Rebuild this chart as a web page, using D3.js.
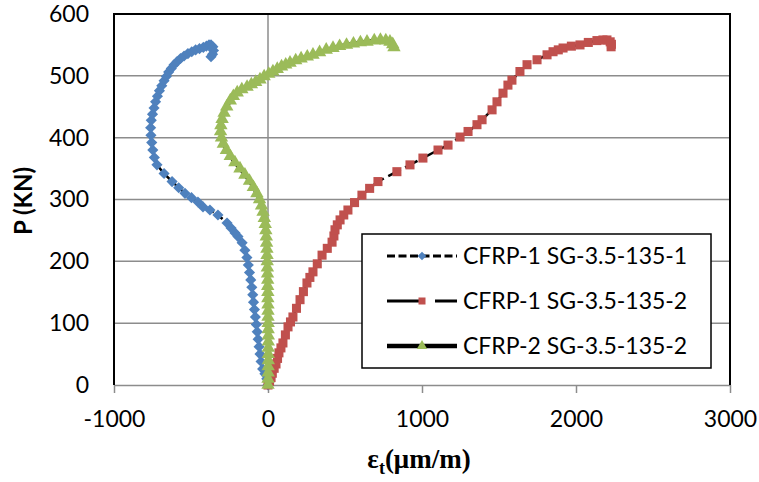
<!DOCTYPE html>
<html>
<head>
<meta charset="utf-8">
<script src="https://cdn.jsdelivr.net/npm/d3@7"></script>
<style>
  body { margin: 0; background: #fff; }
  svg { display: block; }
</style>
</head>
<body>
<div id="chart"></div>
<script>
// Axis ticks
const xTicks = [-1000, 0, 1000, 2000, 3000];
const yTicks = [0, 100, 200, 300, 400, 500, 600];

// Series names as shown in the legend
const seriesNames = ['CFRP-1 SG-3.5-135-1', 'CFRP-1 SG-3.5-135-2', 'CFRP-2 SG-3.5-135-2'];

// Strain (µm/m) and load P (KN)
const strain1 = [0, -8, -20, -35, -45, -52, -58, -64, -70, -76, -82, -88, -94, -99, -105, -112, -120, -128, -137, -150,
  -168, -195, -214, -240, -266, -325, -377, -422, -455, -497, -539, -580, -623, -675, -721, -738, -748, -755, -760, -762,
  -758, -750, -740, -730, -718, -705, -690, -675, -660, -645, -628, -610, -590, -568, -545, -520,
  -495, -470, -445, -420, -400, -383, -370, -358, -354, -360, -370];
const load1 = [0, 10, 18, 26, 38, 50, 62, 74, 86, 98, 110, 122, 134, 146, 158, 170, 182, 194, 206, 218,
  230, 240, 246, 254, 262, 275, 283, 288, 296, 303, 310, 319, 329, 342, 356, 368, 380, 392, 404, 416,
  428, 438, 448, 458, 467, 476, 484, 492, 499, 506, 512, 518, 523, 528, 532, 536,
  539, 542, 544, 546, 548, 550, 550, 547, 541, 535, 531];

const strain2 = [0, 10, 20, 28, 40, 52, 62, 71, 84, 97, 113, 130, 146, 162, 185, 208, 230, 253, 272, 292,
  320, 351, 385, 416, 428, 435, 450, 468, 492, 519, 562, 610, 660, 714, 837, 922, 1006, 1104, 1169, 1247,
  1299, 1357, 1390, 1455, 1487, 1526, 1558, 1584, 1636, 1682, 1747, 1812, 1851, 1885, 1916, 1970, 2026, 2080, 2136, 2175,
  2201, 2222, 2230, 2228];
const load2 = [0, 6, 12, 19, 27, 34, 43, 52, 60, 68, 81, 94, 102, 110, 124, 138, 151, 165, 174, 183,
  196, 210, 221, 231, 241, 251, 259, 267, 275, 283, 295, 307, 318, 329, 345, 356, 367, 380, 388, 401,
  410, 421, 429, 445, 458, 472, 485, 493, 507, 518, 526, 534, 539, 542, 545, 548, 550, 554, 557, 558,
  558, 555, 551, 547];

const strain3 = [0, 0, 1, 1, 2, 2, 2, 2, 2, 1, 1, 0, 0, 0, -1, -1, -2, -2, -3, -4,
  -5, -6, -7, -9, -11, -14, -18, -24, -32, -42, -55, -72, -95, -120, -150, -182, -215, -245, -270, -290,
  -302, -308, -306, -298, -285, -268, -245, -225, -200, -170, -136, -108, -80, -52, -25, 5, 32, 60, 88, 115,
  143, 180, 215, 255, 292, 335, 378, 422, 465, 510, 555, 600, 643, 690, 730, 765, 792, 810, 818];
const load3 = [0, 10, 20, 30, 40, 50, 60, 70, 80, 90, 100, 110, 120, 130, 140, 150, 160, 170, 180, 190,
  200, 210, 220, 230, 240, 250, 260, 270, 280, 290, 300, 310, 320, 330, 340, 350, 360, 370, 380, 390,
  400, 410, 420, 430, 440, 450, 460, 467, 473, 478, 482, 486, 490, 494, 499, 503, 507, 511, 515, 518,
  521, 525, 528, 531, 534, 538, 542, 545, 548, 550, 552, 554, 555, 557, 558, 557, 555, 551, 546];

// Look of each series (black line under coloured markers, Excel style)
const seriesStyle = [
  { color: '#4F81BD', marker: d3.symbolSquare, size: 62, rotate: 45, dash: '7,4', width: 2.5, legendDash: '8,3.5' },
  { color: '#C0504D', marker: d3.symbolSquare, size: 82, rotate: 0, dash: '14,5', width: 2.5, legendDash: '34,14,22' },
  { color: '#9BBB59', marker: d3.symbolTriangle, size: 78, rotate: 0, dash: null, width: 4, legendDash: null }
];

const config = {
  width: 759,
  height: 482,
  plot: { left: 114, top: 14, right: 730, bottom: 385 },
  font: 'Lato, "Open Sans", sans-serif',
  fontSize: 23,
  gridColor: '#8c8c8c'
};

const series = [
  d3.zip(strain1, load1),
  d3.zip(strain2, load2),
  d3.zip(strain3, load3)
];

const svg = d3.select('#chart').append('svg')
  .attr('width', config.width)
  .attr('height', config.height);

const x = d3.scaleLinear().domain([-1000, 3000]).range([config.plot.left, config.plot.right]);
const y = d3.scaleLinear().domain([0, 600]).range([config.plot.bottom, config.plot.top]);

// Plain labels, like "-1000"
const plain = d => String(d);

// Horizontal gridlines
svg.append('g')
  .selectAll('line')
  .data(yTicks.filter(t => t > 0))
  .join('line')
  .attr('x1', config.plot.left)
  .attr('x2', config.plot.right)
  .attr('y1', d => y(d))
  .attr('y2', d => y(d))
  .attr('stroke', config.gridColor)
  .attr('stroke-width', 1.5);

// Vertical axis line at zero strain
svg.append('line')
  .attr('x1', x(0)).attr('x2', x(0))
  .attr('y1', config.plot.top).attr('y2', config.plot.bottom)
  .attr('stroke', config.gridColor)
  .attr('stroke-width', 1.5);

// Bottom axis
const xAxis = svg.append('g')
  .attr('transform', `translate(0,${config.plot.bottom})`)
  .call(d3.axisBottom(x).tickValues(xTicks).tickFormat(plain).tickSize(8).tickPadding(18).tickSizeOuter(0));
xAxis.select('.domain').attr('stroke', config.gridColor).attr('stroke-width', 1.5);
xAxis.selectAll('.tick line').attr('stroke', config.gridColor).attr('stroke-width', 1.5);
xAxis.selectAll('text')
  .attr('fill', '#000')
  .style('font-family', config.font)
  .style('font-size', config.fontSize + 'px');

// Left axis labels
const yAxis = svg.append('g')
  .attr('transform', `translate(${config.plot.left},0)`)
  .call(d3.axisLeft(y).tickValues(yTicks).tickFormat(plain).tickSize(0).tickPadding(25));
yAxis.select('.domain').remove();
yAxis.selectAll('text')
  .attr('fill', '#000')
  .style('font-family', config.font)
  .style('font-size', config.fontSize + 'px');

// Plot area border (left, top, right)
svg.append('path')
  .attr('d', `M${config.plot.left},${config.plot.bottom}V${config.plot.top}H${config.plot.right}V${config.plot.bottom}`)
  .attr('fill', 'none')
  .attr('stroke', '#000')
  .attr('stroke-width', 2);

// Series lines, then markers on top
const line = d3.line().x(d => x(d[0])).y(d => y(d[1]));

series.forEach((data, i) => {
  const st = seriesStyle[i];
  svg.append('path')
    .datum(data)
    .attr('d', line)
    .attr('fill', 'none')
    .attr('stroke', '#000')
    .attr('stroke-width', st.width)
    .attr('stroke-dasharray', st.dash);
});

series.forEach((data, i) => {
  const st = seriesStyle[i];
  svg.append('g')
    .selectAll('path')
    .data(data)
    .join('path')
    .attr('transform', d => `translate(${x(d[0])},${y(d[1])}) rotate(${st.rotate})`)
    .attr('d', d3.symbol().type(st.marker).size(st.size))
    .attr('fill', st.color);
});

// Legend
const legend = svg.append('g');
legend.append('rect')
  .attr('x', 362).attr('y', 234)
  .attr('width', 349).attr('height', 134)
  .attr('fill', '#fff')
  .attr('stroke', '#000')
  .attr('stroke-width', 1.5);

seriesNames.forEach((name, i) => {
  const st = seriesStyle[i];
  const cy = 256 + i * 45;
  legend.append('line')
    .attr('x1', 387).attr('x2', 457)
    .attr('y1', cy).attr('y2', cy)
    .attr('stroke', '#000')
    .attr('stroke-width', i === 2 ? 4.5 : 3)
    .attr('stroke-dasharray', st.legendDash);
  legend.append('path')
    .attr('transform', `translate(422,${cy}) rotate(${st.rotate})`)
    .attr('d', d3.symbol().type(st.marker).size(st.size * 0.6))
    .attr('fill', st.color);
  legend.append('text')
    .attr('x', 463)
    .attr('y', cy)
    .attr('dy', '0.35em')
    .style('font-family', config.font)
    .style('font-size', config.fontSize + 'px')
    .text(name);
});

// Axis titles
svg.append('text')
  .attr('transform', 'translate(32,201) rotate(-90)')
  .attr('text-anchor', 'middle')
  .style('font-family', config.font)
  .style('font-size', '24px')
  .style('font-weight', 'bold')
  .text('P (KN)');

const xTitle = svg.append('text')
  .attr('x', 419)
  .attr('y', 468)
  .attr('text-anchor', 'middle')
  .style('font-family', '"Liberation Serif", "Times New Roman", serif')
  .style('font-size', '27px')
  .style('font-weight', 'bold');
xTitle.append('tspan').text('ε');
xTitle.append('tspan').attr('dy', 6).style('font-size', '18px').text('t');
xTitle.append('tspan').attr('dy', -6).text('(μm/m)');
</script>
</body>
</html>
